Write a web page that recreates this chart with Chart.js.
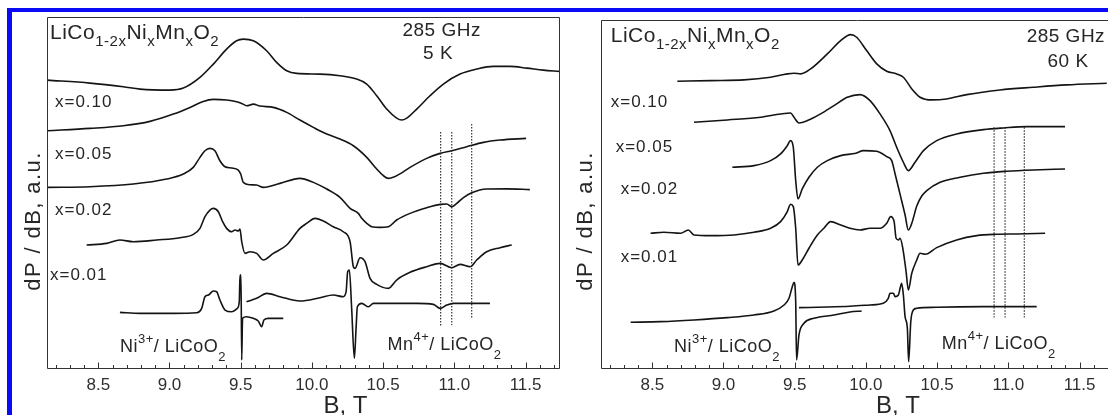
<!DOCTYPE html>
<html><head><meta charset="utf-8">
<script src="https://cdn.jsdelivr.net/npm/chart.js@4.4.1/dist/chart.umd.min.js"></script>
<style>
html,body{margin:0;padding:0;background:#fff;overflow:hidden;width:1108px;height:415px;}
#frame{position:absolute;left:7px;top:8px;width:1200px;height:500px;border-left:5px solid #0a0af5;border-top:4px solid #0a0af5;pointer-events:none;}
#wl{position:absolute;left:0;top:0;}
#wr{position:absolute;left:562px;top:0;}
canvas{display:block;}
</style></head><body>
<div id="wl"><canvas id="cl" width="562" height="415"></canvas></div>
<div id="wr"><canvas id="cr" width="560" height="415"></canvas></div>
<div id="frame"></div>
<script>
// ---------- axis ticks ----------
const tickValues = [8.5, 9.0, 9.5, 10.0, 10.5, 11.0, 11.5];
const tickLabels = ['8.5', '9.0', '9.5', '10.0', '10.5', '11.0', '11.5'];

// ---------- 5 K spectra: [B (T), dP/dB (a.u.)] ----------
const k5_x010 = [[8.142,72.0],[8.441,71.25],[8.676,70.33],[8.793,69.75],[9.003,69.5],[9.097,70.0],[9.214,72.67],[9.308,76.0],[9.401,79.75],[9.471,81.83],[9.518,82.25],[9.589,81.83],[9.682,79.33],[9.752,76.42],[9.823,74.33],[9.893,73.67],[10.057,73.5],[10.197,73.08],[10.314,72.25],[10.385,71.0],[10.455,68.08],[10.525,64.75],[10.595,62.5],[10.63,62.0],[10.666,62.5],[10.736,64.75],[10.829,68.08],[10.923,71.0],[11.04,73.5],[11.157,74.75],[11.274,75.42],[11.391,75.42],[11.508,75.0],[11.625,74.5],[11.737,74.17]];
const k5_x005 = [[8.142,59.33],[8.441,59.92],[8.676,60.58],[8.863,61.67],[9.027,63.5],[9.144,65.17],[9.237,66.67],[9.308,67.17],[9.401,67.0],[9.471,66.58],[9.507,66.17],[9.542,65.58],[9.589,66.0],[9.635,65.5],[9.729,65.17],[9.823,63.92],[9.916,62.0],[10.01,60.17],[10.104,58.5],[10.197,57.25],[10.291,55.58],[10.385,52.67],[10.455,49.75],[10.502,48.08],[10.537,47.42],[10.595,48.08],[10.689,50.17],[10.806,52.42],[10.9,53.67],[10.982,54.33],[11.087,55.33],[11.204,56.42],[11.321,57.0],[11.504,57.42]];
const k5_x002 = [[8.142,45.17],[8.441,45.33],[8.746,46.0],[8.98,47.25],[9.097,48.5],[9.167,50.17],[9.214,52.67],[9.249,54.33],[9.284,54.92],[9.319,54.33],[9.354,51.83],[9.39,50.33],[9.436,50.0],[9.483,49.5],[9.5,48.5],[9.518,46.42],[9.565,45.83],[9.612,45.75],[9.659,45.17],[9.776,46.17],[9.916,47.42],[10.01,46.42],[10.104,44.75],[10.197,42.67],[10.268,39.92],[10.326,38.67],[10.35,37.42],[10.385,36.17],[10.42,35.33],[10.478,35.17],[10.537,35.33],[10.595,37.0],[10.689,38.67],[10.806,40.08],[10.9,40.92],[10.947,41.0],[10.982,40.33],[11.017,41.17],[11.064,42.6],[11.122,43.8],[11.227,44.75],[11.37,44.8],[11.53,44.6]];
const k5_x001 = [[8.418,30.75],[8.559,31.17],[8.652,32.0],[8.746,31.58],[8.91,32.0],[9.074,32.58],[9.167,33.42],[9.214,34.92],[9.249,37.83],[9.284,39.5],[9.308,39.92],[9.343,39.08],[9.373,36.58],[9.401,34.92],[9.436,34.08],[9.46,34.5],[9.483,34.25],[9.495,34.75],[9.507,31.58],[9.53,28.67],[9.565,29.08],[9.612,28.67],[9.659,27.0],[9.729,28.67],[9.823,30.75],[9.916,34.92],[9.963,36.17],[10.022,37.42],[10.08,36.75],[10.15,35.33],[10.22,34.08],[10.268,31.58],[10.291,25.33],[10.303,24.92],[10.338,27.58],[10.373,26.58],[10.408,22.42],[10.455,20.92],[10.537,19.92],[10.595,22.0],[10.689,23.92],[10.806,25.33],[10.9,26.17],[10.982,25.08],[11.04,25.92],[11.111,25.33],[11.157,27.0],[11.227,29.08],[11.321,30.08],[11.403,30.75]];
const k5_ni = [[8.652,13.92],[8.793,13.67],[9.027,13.67],[9.191,13.83],[9.226,14.92],[9.249,17.83],[9.273,18.25],[9.308,19.25],[9.331,19.08],[9.354,17.0],[9.39,14.5],[9.436,14.08],[9.476,14.92],[9.49,16.58],[9.495,23.25],[9.502,23.25],[9.507,2.0],[9.513,12.42],[9.541,12.83],[9.588,12.42],[9.623,11.75],[9.647,10.33],[9.663,12.0],[9.694,12.42],[9.799,12.42]];
const k5_mn = [[9.541,16.58],[9.612,17.42],[9.682,18.67],[9.776,17.83],[9.916,16.75],[10.057,17.58],[10.15,18.25],[10.22,17.83],[10.24,19.08],[10.251,24.08],[10.263,24.5],[10.279,14.92],[10.298,2.42],[10.31,9.92],[10.319,15.33],[10.35,16.17],[10.397,15.33],[10.432,16.17],[10.525,16.17],[10.736,16.17],[10.853,15.92],[10.9,14.92],[10.947,15.75],[10.993,16.17],[11.25,16.17]];
const k5_markB = [10.904, 10.982, 11.122];
const k5_markTop = [59.0, 59.0, 61.0];
const k5_markBottom = [10.25, 10.75, 12.5];

// ---------- 60 K spectra ----------
const k60_x010 = [[8.676,71.67],[8.91,71.83],[9.144,72.0],[9.331,72.67],[9.448,73.5],[9.495,73.67],[9.542,73.5],[9.612,74.75],[9.729,78.5],[9.823,81.83],[9.893,83.33],[9.935,82.67],[10.005,79.33],[10.076,76.0],[10.146,74.17],[10.216,73.5],[10.263,72.67],[10.322,69.75],[10.38,67.67],[10.462,67.0],[10.567,67.25],[10.708,68.33],[10.942,69.5],[11.176,70.17],[11.41,70.75],[11.691,71.17]];
const k60_x005 = [[8.793,61.42],[9.027,62.0],[9.261,62.67],[9.401,63.5],[9.471,63.75],[9.495,62.67],[9.53,61.25],[9.589,61.83],[9.682,63.5],[9.776,65.58],[9.869,67.67],[9.959,68.33],[10.029,66.83],[10.099,63.5],[10.169,59.33],[10.216,55.17],[10.263,51.42],[10.298,49.33],[10.345,51.42],[10.404,54.33],[10.497,56.83],[10.637,58.5],[10.825,59.58],[10.965,60.0],[11.129,60.33],[11.398,60.33]];
const k60_x002 = [[9.062,50.17],[9.214,50.58],[9.331,51.83],[9.401,53.5],[9.448,55.58],[9.471,56.83],[9.49,55.17],[9.507,46.83],[9.523,42.25],[9.553,44.75],[9.6,47.67],[9.659,50.17],[9.729,51.83],[9.823,53.08],[9.93,53.67],[9.982,54.33],[10.076,54.17],[10.146,52.83],[10.181,51.83],[10.205,48.5],[10.24,43.4],[10.275,38.25],[10.298,34.5],[10.322,36.17],[10.357,40.5],[10.392,43.0],[10.427,44.33],[10.521,46.42],[10.661,47.67],[10.825,48.67],[10.989,49.17],[11.176,49.5],[11.398,49.75]];
const k60_x001 = [[8.488,33.67],[8.582,33.92],[8.699,33.67],[8.753,34.5],[8.793,33.25],[8.91,33.08],[9.074,33.25],[9.214,33.92],[9.331,34.92],[9.401,36.58],[9.448,39.08],[9.471,40.92],[9.49,40.33],[9.507,34.92],[9.523,25.75],[9.553,27.0],[9.6,29.92],[9.659,33.25],[9.705,34.92],[9.752,36.58],[9.823,35.75],[9.888,34.92],[9.959,34.5],[10.029,34.92],[10.099,34.92],[10.146,36.17],[10.174,37.83],[10.198,36.58],[10.212,32.42],[10.228,32.0],[10.24,32.42],[10.259,29.92],[10.282,24.08],[10.298,19.5],[10.322,23.67],[10.357,27.0],[10.38,28.67],[10.416,28.42],[10.497,30.08],[10.637,32.0],[10.778,33.08],[10.918,33.42],[11.059,33.5],[11.258,33.67]];
const k60_ni = [[8.348,11.42],[8.559,11.58],[8.793,12.0],[9.027,12.58],[9.214,13.25],[9.354,14.25],[9.425,15.75],[9.46,17.42],[9.483,20.33],[9.495,21.42],[9.507,16.58],[9.513,2.0],[9.53,8.25],[9.565,11.17],[9.635,12.42],[9.776,13.25],[9.888,14.0],[9.97,14.25]];
const k60_mn = [[9.53,15.08],[9.729,15.25],[9.888,15.45],[10.029,15.75],[10.122,16.17],[10.157,17.42],[10.169,18.67],[10.193,18.67],[10.205,17.83],[10.228,18.25],[10.24,19.92],[10.251,21.17],[10.263,18.25],[10.275,12.83],[10.291,9.92],[10.3,1.58],[10.315,11.58],[10.333,14.5],[10.357,14.92],[10.497,15.17],[10.825,15.33],[11.199,15.33]];
const k60_markB = [10.90, 10.977, 11.112];
const k60_markTop = [60.2, 60.2, 60.2];
const k60_markBottom = [12.6, 12.6, 12.6];

// ---------- styling ----------
const FAM = '"Liberation Sans", Arial, Helvetica, sans-serif';
const INK = '#141414';
const AXIS = '#333333';
const TXT = '#262626';

const formula = [['LiCo',0],['1-2x',-1],['Ni',0],['x',-1],['Mn',0],['x',-1],['O',0],['2',-1]];
const niRef = [['Ni',0],['3+',1],['/ LiCoO',0],['2',-1]];
const mnRef = [['Mn',0],['4+',1],['/ LiCoO',0],['2',-1]];

function curve(pts) {
  return { data: pts.map(p => ({x: p[0], y: p[1]})), borderColor: INK, borderWidth: 1.6,
    pointRadius: 0, showLine: true, fill: false, cubicInterpolationMode: 'monotone' };
}
function markers(bs, tops, bottoms) {
  return bs.map((b, i) => ({ data: [{x: b, y: tops[i]}, {x: b, y: bottoms[i]}], borderColor: '#1e1e1e',
    borderWidth: 1.1, borderDash: [1.5, 1.5], pointRadius: 0, showLine: true, tension: 0 }));
}

function drawRich(ctx, parts, x, y, size, align, subShift, supShift, spacing) {
  const small = Math.round(size * 0.72);
  ctx.letterSpacing = spacing + 'px';
  let w = 0;
  parts.forEach(p => { ctx.font = (p[1] ? small : size) + 'px ' + FAM; w += ctx.measureText(p[0]).width; });
  let cx = align === 'center' ? x - w / 2 : x;
  ctx.textAlign = 'left'; ctx.textBaseline = 'alphabetic';
  parts.forEach(p => {
    ctx.font = (p[1] ? small : size) + 'px ' + FAM;
    const dy = p[1] === -1 ? size * subShift : (p[1] === 1 ? -size * supShift : 0);
    ctx.fillText(p[0], cx, y + dy);
    cx += ctx.measureText(p[0]).width;
  });
}

const panelDecor = {
  id: 'panelDecor',
  afterDraw(chart, args, o) {
    const ctx = chart.ctx, a = chart.chartArea, xs = chart.scales.x, ys = chart.scales.y;
    ctx.save();
    ctx.strokeStyle = AXIS; ctx.lineWidth = 1;
    const L = Math.round(a.left) + 0.5, T = Math.round(a.top) + 0.5, R = Math.round(a.right) + 0.5, B = Math.round(a.bottom) + 0.5;
    ctx.beginPath(); ctx.moveTo(L, B); ctx.lineTo(L, T); ctx.lineTo(R, T); ctx.lineTo(R, B); ctx.lineTo(L, B); ctx.stroke();
    for (let k = Math.ceil(xs.min * 10); k <= Math.floor(xs.max * 10); k++) {
      const px = Math.round(xs.getPixelForValue(k / 10)) + 0.5;
      const len = (k % 5 === 0) ? 6 : 3.5;
      ctx.beginPath(); ctx.moveTo(px, B); ctx.lineTo(px, B - len); ctx.stroke();
    }
    ctx.fillStyle = TXT;
    o.notes.forEach(n => {
      drawRich(ctx, n.parts, xs.getPixelForValue(n.b), ys.getPixelForValue(n.v), n.size, n.align || 'left',
        n.sub || 0.32, n.sup || 0.45, n.sp || 0);
    });
    // axis titles
    ctx.letterSpacing = '0px';
    ctx.font = '24px ' + FAM; ctx.textAlign = 'center'; ctx.textBaseline = 'alphabetic';
    ctx.fillText('B, T', xs.getPixelForValue(o.titleB), a.bottom + 45);
    ctx.save();
    ctx.translate(a.left - o.yGap, o.yMid);
    ctx.rotate(-Math.PI / 2);
    ctx.font = '22px ' + FAM; ctx.letterSpacing = '1.4px';
    ctx.fillText('dP / dB, a.u.', 0, 0);
    ctx.restore();
    ctx.restore();
  }
};

function makePanel(id, cfg) {
  return new Chart(document.getElementById(id), {
    type: 'scatter',
    data: { datasets: cfg.datasets },
    options: {
      responsive: false, animation: false, devicePixelRatio: 1,
      layout: { padding: cfg.padding },
      plugins: { legend: { display: false }, tooltip: { enabled: false }, panelDecor: cfg.decor },
      scales: {
        x: { type: 'linear', min: 8.142, max: 11.737,
          afterBuildTicks: s => { s.ticks = tickValues.map(v => ({ value: v })); },
          afterFit: s => { s.height = 47; },
          grid: { display: false, drawTicks: false }, border: { display: false },
          ticks: { autoSkip: false, maxRotation: 0, padding: 7, color: '#2f2f2f',
            font: { size: 17, family: FAM }, callback: (v, i) => tickLabels[i] } },
        y: { type: 'linear', min: 0, max: cfg.ymax, display: false }
      }
    },
    plugins: [panelDecor]
  });
}

makePanel('cl', {
  padding: { left: 47.3, top: 16.5, right: 2.7, bottom: 0 },
  ymax: 87.9,
  datasets: [...markers(k5_markB, k5_markTop, k5_markBottom),
    curve(k5_x010), curve(k5_x005), curve(k5_x002), curve(k5_x001), curve(k5_ni), curve(k5_mn)],
  decor: {
    titleB: 10.235, yGap: 7, yMid: 221,
    notes: [
      { parts: formula, b: 8.161, v: 82.25, size: 21, sp: 0.5 },
      { parts: [['285 GHz',0]], b: 10.911, v: 83.0, size: 19, align: 'center', sp: 0.5 },
      { parts: [['5 K',0]], b: 10.886, v: 77.25, size: 19, align: 'center', sp: 0.5 },
      { parts: [['x=0.10',0]], b: 8.196, v: 65.25, size: 17, sp: 1 },
      { parts: [['x=0.05',0]], b: 8.196, v: 52.25, size: 17, sp: 1 },
      { parts: [['x=0.02',0]], b: 8.196, v: 38.25, size: 17, sp: 1 },
      { parts: [['x=0.01',0]], b: 8.161, v: 22.0, size: 17, sp: 1 },
      { parts: niRef, b: 8.652, v: 4.08, size: 18, sub: 0.5, sup: 0.5, sp: 0.5 },
      { parts: mnRef, b: 10.53, v: 4.5, size: 18, sub: 0.5, sup: 0.5, sp: 0.5 }
    ]
  }
});

makePanel('cr', {
  padding: { left: 39.3, top: 19.5, right: 8.7, bottom: 0 },
  ymax: 87.1,
  datasets: [...markers(k60_markB, k60_markTop, k60_markBottom),
    curve(k60_x010), curve(k60_x005), curve(k60_x002), curve(k60_x001), curve(k60_ni), curve(k60_mn)],
  decor: {
    titleB: 10.225, yGap: 9, yMid: 221,
    notes: [
      { parts: formula, b: 8.208, v: 81.4, size: 21, sp: 0.5 },
      { parts: [['285 GHz',0]], b: 11.404, v: 81.5, size: 19, align: 'center', sp: 0.5 },
      { parts: [['60 K',0]], b: 11.419, v: 75.25, size: 19, align: 'center', sp: 0.5 },
      { parts: [['x=0.10',0]], b: 8.208, v: 65.2, size: 17, sp: 1 },
      { parts: [['x=0.05',0]], b: 8.243, v: 53.9, size: 17, sp: 1 },
      { parts: [['x=0.02',0]], b: 8.278, v: 43.5, size: 17, sp: 1 },
      { parts: [['x=0.01',0]], b: 8.278, v: 26.6, size: 17, sp: 1 },
      { parts: niRef, b: 8.652, v: 4.08, size: 18, sub: 0.5, sup: 0.5, sp: 0.5 },
      { parts: mnRef, b: 10.532, v: 4.75, size: 18, sub: 0.5, sup: 0.5, sp: 0.5 }
    ]
  }
});
</script></body></html>
